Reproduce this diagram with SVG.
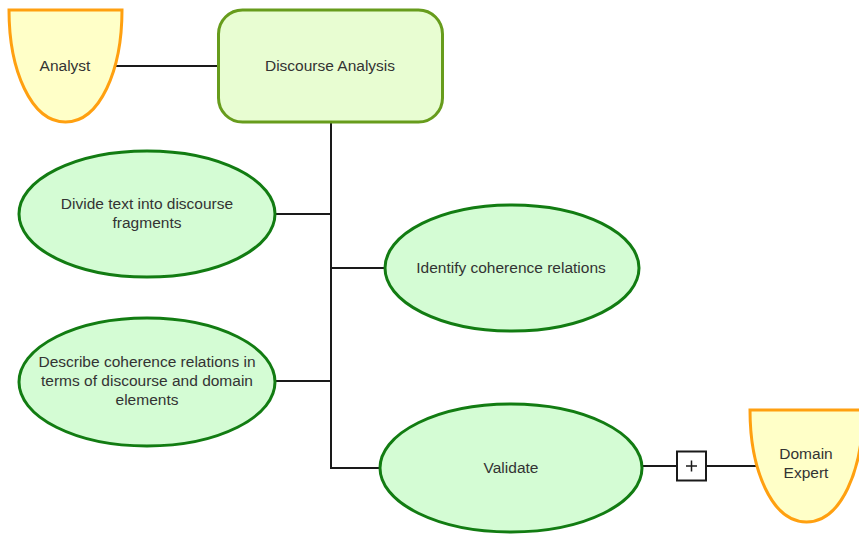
<svg xmlns="http://www.w3.org/2000/svg" width="859" height="535" viewBox="0 0 859 535">
  <style>
    .lbl { font-family: "Liberation Sans", Arial, sans-serif; font-size: 15.5px; fill: #333333; text-anchor: middle; }
    .actor { fill: #FFFFC8; stroke: #FFA010; stroke-width: 3; }
    .task { fill: #D4FCD4; stroke: #127C12; stroke-width: 3; }
    .goal { fill: #E8FDD2; stroke: #679C1C; stroke-width: 3; }
    .conn { fill: none; stroke: #1A1A1A; stroke-width: 2; }
  </style>
  <defs>
    <path id="actorShape" d="M0,0 H113 C113,60 91,112 56.5,112 C22,112 0,60 0,0 Z"/>
  </defs>

  <rect width="859" height="535" fill="#FFFFFF"/>

  <g id="connectors">
    <line class="conn" x1="115" y1="66" x2="219" y2="66"/>
    <line class="conn" x1="331" y1="122" x2="331" y2="469"/>
    <line class="conn" x1="274" y1="214" x2="331" y2="214"/>
    <line class="conn" x1="331" y1="268" x2="386" y2="268"/>
    <line class="conn" x1="274" y1="381" x2="331" y2="381"/>
    <line class="conn" x1="330" y1="468" x2="381" y2="468"/>
    <line class="conn" x1="641" y1="466" x2="677" y2="466"/>
    <line class="conn" x1="706" y1="466" x2="760" y2="466"/>
    <g id="link-plus">
      <rect x="677" y="451.5" width="29" height="29" fill="#FFFFFF" stroke="#1A1A1A" stroke-width="2"/>
      <line x1="686" y1="466" x2="697" y2="466" stroke="#1A1A1A" stroke-width="1.5"/>
      <line x1="691.5" y1="460.5" x2="691.5" y2="471.5" stroke="#1A1A1A" stroke-width="1.5"/>
    </g>
  </g>

  <g id="analyst">
    <use href="#actorShape" class="actor" transform="translate(9,10)"/>
    <text class="lbl" x="65" y="71">Analyst</text>
  </g>

  <g id="discourse-analysis">
    <rect class="goal" x="218.5" y="10" width="224" height="112" rx="24" ry="24"/>
    <text class="lbl" x="330" y="71">Discourse Analysis</text>
  </g>

  <g id="divide-text">
    <ellipse class="task" cx="147" cy="214" rx="128" ry="63"/>
    <text class="lbl" x="147" y="209">Divide text into discourse</text>
    <text class="lbl" x="147" y="228">fragments</text>
  </g>

  <g id="identify-relations">
    <ellipse class="task" cx="512" cy="268" rx="127" ry="63"/>
    <text class="lbl" x="511" y="273">Identify coherence relations</text>
  </g>

  <g id="describe-relations">
    <ellipse class="task" cx="147" cy="382" rx="128" ry="64"/>
    <text class="lbl" x="147" y="367">Describe coherence relations in</text>
    <text class="lbl" x="147" y="386">terms of discourse and domain</text>
    <text class="lbl" x="147" y="405">elements</text>
  </g>

  <g id="validate">
    <ellipse class="task" cx="511" cy="468" rx="131" ry="64"/>
    <text class="lbl" x="511" y="473">Validate</text>
  </g>

  <g id="domain-expert">
    <use href="#actorShape" class="actor" transform="translate(750,410)"/>
    <text class="lbl" x="806" y="459">Domain</text>
    <text class="lbl" x="806" y="478">Expert</text>
  </g>
</svg>
